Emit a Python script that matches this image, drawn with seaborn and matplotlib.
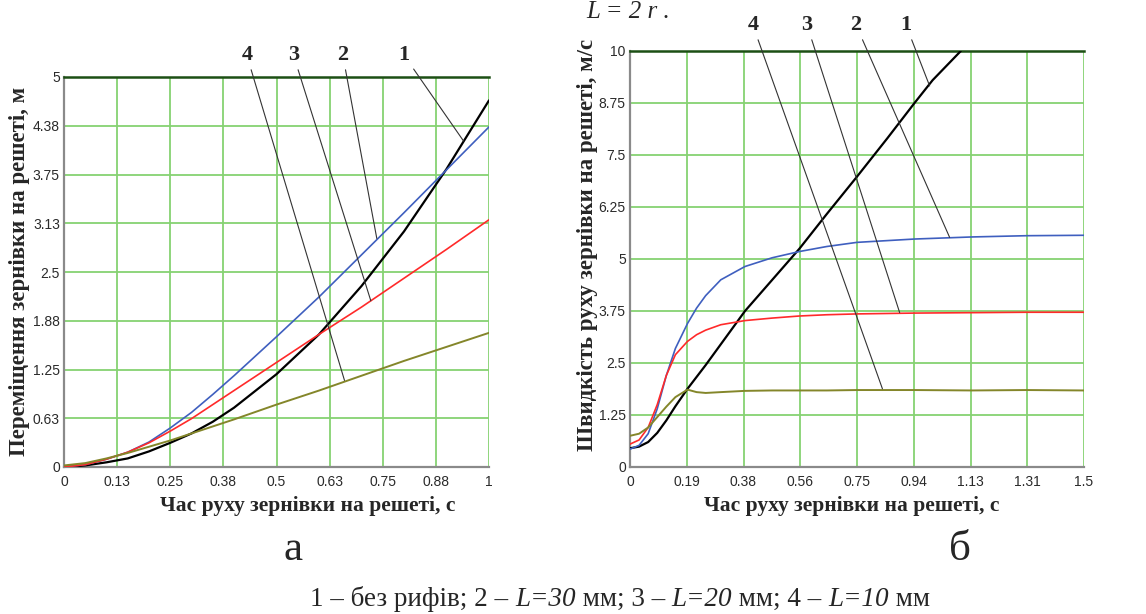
import matplotlib
matplotlib.use("Agg")
import matplotlib.pyplot as plt
import seaborn as sns
import numpy as np
import pandas as pd

# ---- дані: переміщення (а) ----
t_a = [0, 0.05, 0.1, 0.15, 0.2, 0.25, 0.3, 0.35, 0.4, 0.5, 0.6, 0.7, 0.8, 0.9, 1.0]
x1 = [0, 0.02, 0.06, 0.11, 0.2, 0.31, 0.43, 0.58, 0.76, 1.19, 1.7, 2.32, 3.02, 3.82, 4.7]
x2 = [0, 0.03, 0.1, 0.19, 0.32, 0.5, 0.7, 0.93, 1.17, 1.67, 2.18, 2.72, 3.26, 3.81, 4.36]
x3 = [0, 0.03, 0.1, 0.19, 0.31, 0.46, 0.62, 0.8, 0.98, 1.34, 1.7, 2.05, 2.42, 2.79, 3.17]
x4 = [0.02, 0.05, 0.11, 0.18, 0.26, 0.34, 0.43, 0.52, 0.61, 0.8, 0.98, 1.17, 1.36, 1.54, 1.72]

# ---- дані: швидкість (б) ----
t_v1 = [0, 0.03, 0.06, 0.09, 0.12, 0.15, 0.19, 0.25, 0.3, 0.38, 0.47, 0.56, 0.65, 0.75, 0.85, 0.94, 1.0, 1.093]
v1 = [0.45, 0.49, 0.6, 0.82, 1.12, 1.46, 1.88, 2.45, 2.95, 3.75, 4.5, 5.25, 6.08, 6.98, 7.9, 8.75, 9.3, 10.0]
t_b = [0, 0.03, 0.06, 0.09, 0.12, 0.15, 0.19, 0.22, 0.25, 0.3, 0.38, 0.47, 0.56, 0.65, 0.75, 0.94, 1.13, 1.31, 1.5]
v2 = [0.43, 0.52, 0.8, 1.4, 2.2, 2.85, 3.45, 3.82, 4.12, 4.5, 4.82, 5.03, 5.18, 5.3, 5.4, 5.48, 5.53, 5.56, 5.57]
v3 = [0.55, 0.65, 0.95, 1.5, 2.2, 2.7, 3.02, 3.18, 3.29, 3.42, 3.52, 3.58, 3.63, 3.66, 3.68, 3.7, 3.71, 3.72, 3.72]
v4 = [0.75, 0.8, 0.95, 1.2, 1.45, 1.68, 1.86, 1.8, 1.78, 1.8, 1.83, 1.84, 1.84, 1.84, 1.85, 1.85, 1.84, 1.85, 1.84]

# ---- підписи осей ----
xt_a = ['0', '0.13', '0.25', '0.38', '0.5', '0.63', '0.75', '0.88', '1']
yt_a = ['0', '0.63', '1.25', '1.88', '2.5', '3.13', '3.75', '4.38', '5']
xt_b = ['0', '0.19', '0.38', '0.56', '0.75', '0.94', '1.13', '1.31', '1.5']
yt_b = ['0', '1.25', '2.5', '3.75', '5', '6.25', '7.5', '8.75', '10']

curve_labels = ['1', '2', '3', '4']
colors = ['#000000', '#3f5fbf', '#ff2a2a', '#84862a']
widths = [1.6, 1.2, 1.2, 1.4]

# виноски: (точка на кривій, положення номера)
leaders_a = [((0.94, 4.18), (0.80, 5.28)), ((0.736, 2.93), (0.656, 5.28)),
             ((0.722, 2.13), (0.54, 5.28)), ((0.66, 1.11), (0.43, 5.28))]
leaders_b = [((0.99, 9.16), (0.912, 10.62)), ((1.056, 5.52), (0.747, 10.62)),
             ((0.891, 3.71), (0.585, 10.62)), ((0.834, 1.88), (0.406, 10.62))]

sns.set_style('white')
plt.rcParams['font.family'] = ['Liberation Serif', 'DejaVu Serif']

fig = plt.figure(figsize=(11.46, 6.14), dpi=100)
W, H = 1146, 614
ax_a = fig.add_axes([64 / W, 1 - 467 / H, 425 / W, 390 / H])
ax_b = fig.add_axes([630 / W, 1 - 467 / H, 454 / W, 416 / H])


def style_axes(ax, xmax, ymax, xt, yt):
    ax.set_xlim(0, xmax)
    ax.set_ylim(0, ymax)
    ax.set_xticks(np.linspace(0, xmax, 9))
    ax.set_yticks(np.linspace(0, ymax, 9))
    ax.set_xticklabels(xt, fontfamily='Liberation Sans', fontsize=10, color='#2a2a2a')
    ax.set_yticklabels(yt, fontfamily='Liberation Sans', fontsize=10, color='#2a2a2a')
    ax.tick_params(length=0, pad=6, axis='x')
    ax.tick_params(length=0, pad=3, axis='y')
    ax.grid(True, color='#86d272', lw=1.3)
    ax.set_axisbelow(True)
    for side in ['left', 'bottom', 'right']:
        ax.spines[side].set_color('#8a8a8a')
        ax.spines[side].set_linewidth(1.6)
    ax.spines['right'].set_visible(False)
    ax.spines['top'].set_color('#1c4f14')
    ax.spines['top'].set_linewidth(1.8)
    ax.set_xlabel('')
    ax.set_ylabel('')


series_a = [x1, x2, x3, x4]
for lab, ys, c, lw in zip(curve_labels, series_a, colors, widths):
    df = pd.DataFrame({'t': t_a, 'x': ys})
    sns.lineplot(data=df, x='t', y='x', color=c, lw=lw, ax=ax_a, zorder=3)

series_b = [(t_v1, v1), (t_b, v2), (t_b, v3), (t_b, v4)]
for lab, (ts, ys), c, lw in zip(curve_labels, series_b, colors, widths):
    df = pd.DataFrame({'t': ts, 'v': ys})
    sns.lineplot(data=df, x='t', y='v', color=c, lw=lw, ax=ax_b, zorder=3)

style_axes(ax_a, 1.0, 5.0, xt_a, yt_a)
style_axes(ax_b, 1.5, 10.0, xt_b, yt_b)

for ax, leaders in [(ax_a, leaders_a), (ax_b, leaders_b)]:
    for lab, (pt, txt) in zip(curve_labels, leaders):
        ax.annotate(lab, xy=pt, xytext=txt, textcoords='data', ha='center', va='center',
                    fontsize=16, fontweight='bold', annotation_clip=False,
                    arrowprops=dict(arrowstyle='-', lw=0.8, color='#333333',
                                    shrinkA=1, shrinkB=0), zorder=4)

fig.text(308 / W, 1 - 506 / H, 'Час руху зернівки на решеті, с', ha='center', va='center',
         fontsize=15.5, fontweight='bold')
fig.text(852 / W, 1 - 506 / H, 'Час руху зернівки на решеті, с', ha='center', va='center',
         fontsize=15.5, fontweight='bold')
fig.text(20 / W, 1 - 271 / H, 'Переміщення зернівки на решеті, м', rotation=90,
         ha='center', va='center', fontsize=16.5, fontweight='bold')
fig.text(587 / W, 1 - 245 / H, 'Швидкість руху зернівки на решеті, м/с', rotation=90,
         ha='center', va='center', fontsize=16.5, fontweight='bold')

fig.text(293 / W, 1 - 550 / H, 'а', ha='center', va='center', fontsize=31)
fig.text(960 / W, 1 - 550 / H, 'б', ha='center', va='center', fontsize=31)

fig.text(628 / W, 1 - 1 / H, 'L = 2 r .', ha='center', va='top', fontsize=18, style='italic')

# підпис з курсивом, складений з частин
parts = [('1 – без рифів; 2 – ', 'normal'), ('L=30', 'italic'), (' мм; 3 – ', 'normal'),
         ('L=20', 'italic'), (' мм; 4 – ', 'normal'), ('L=10', 'italic'), (' мм', 'normal')]
fig.canvas.draw()
renderer = fig.canvas.get_renderer()
widths_px = []
objs = []
for s, st in parts:
    tx = fig.text(0, 1 - 599 / H, s, fontsize=19.5, style=st, va='center', ha='left')
    objs.append(tx)
    widths_px.append(tx.get_window_extent(renderer).width)
x0 = 620 - sum(widths_px) / 2
for tx, w in zip(objs, widths_px):
    tx.set_x(x0 / W)
    x0 += w

fig.savefig('out.png', dpi=100)
